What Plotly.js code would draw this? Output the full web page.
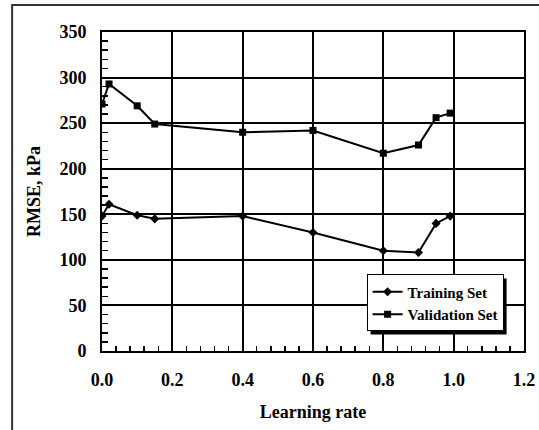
<!DOCTYPE html>
<html><head><meta charset="utf-8">
<script src="https://cdn.plot.ly/plotly-3.0.1.min.js"></script>
<style>html,body{margin:0;padding:0;background:#fff;}#chart{width:539px;height:430px;}</style>
</head><body><div id="chart"></div>
<script>
const learningRateTrain = [0.0, 0.02, 0.1, 0.15, 0.4, 0.6, 0.8, 0.9, 0.95, 0.99];
const trainingRMSE = [148, 161, 149, 145, 148, 130, 110, 108, 140, 148];
const learningRateVal = [0.0, 0.02, 0.1, 0.15, 0.4, 0.6, 0.8, 0.9, 0.95, 0.99];
const validationRMSE = [271, 293, 269, 249, 240, 242, 217, 226, 256, 261];
const xTickVals = [0, 0.2, 0.4, 0.6, 0.8, 1.0, 1.2];
const xTickText = ['0.0', '0.2', '0.4', '0.6', '0.8', '1.0', '1.2'];

const F = 'Liberation Serif, Times New Roman, serif';
const traces = [
  {x: learningRateTrain, y: trainingRMSE, name: 'Training Set', mode: 'lines+markers',
   line: {color: '#000', width: 2}, marker: {symbol: 'diamond', size: 7, color: '#000'}},
  {x: learningRateVal, y: validationRMSE, name: 'Validation Set', mode: 'lines+markers',
   line: {color: '#000', width: 2}, marker: {symbol: 'square', size: 7, color: '#000'}}
];
const frame = {type: 'rect', xref: 'paper', yref: 'paper', x0: -0.213, x1: 1.2, y0: -0.5, y1: 1.0846,
     line: {color: '#333', width: 2}, fillcolor: 'rgba(0,0,0,0)', layer: 'below'};
const layout = {
  width: 539, height: 430,
  margin: {l: 102, r: 15, t: 32, b: 79},
  paper_bgcolor: '#fff', plot_bgcolor: '#fff',
  font: {family: F, color: '#000', size: 18, weight: 700},
  showlegend: true,
  legend: {x: 0.627, y: 0.24, xanchor: 'left', yanchor: 'top', bgcolor: '#fff',
    bordercolor: '#000', borderwidth: 1, font: {family: F, size: 15, weight: 700, color: '#000'},
    tracegroupgap: 0, itemwidth: 30},
  xaxis: {range: [0, 1.2], tickvals: xTickVals, ticktext: xTickText, showgrid: true,
    gridcolor: '#000', gridwidth: 2, zeroline: false, showline: true, linecolor: '#000', linewidth: 2,
    mirror: true, ticks: 'inside', ticklen: 6, tickwidth: 2, tickcolor: '#000', ticklabelstandoff: 11,
    minor: {dtick: 0.04, ticks: 'inside', ticklen: 5, tickwidth: 1.5, tickcolor: '#000', showgrid: false},
    tickfont: {family: F, size: 18, weight: 700}, fixedrange: true,
    title: {text: 'Learning rate', font: {family: F, size: 18, weight: 700}, standoff: 17}},
  yaxis: {range: [0, 350], dtick: 50, showgrid: true,
    gridcolor: '#000', gridwidth: 2, zeroline: false, showline: true, linecolor: '#000', linewidth: 2,
    mirror: true, ticks: 'inside', ticklen: 6, tickwidth: 2, tickcolor: '#000', ticklabelstandoff: 10,
    minor: {dtick: 10, ticks: 'inside', ticklen: 6, tickwidth: 1.5, tickcolor: '#000', showgrid: false},
    tickfont: {family: F, size: 18, weight: 700}, fixedrange: true,
    title: {text: 'RMSE, kPa', font: {family: F, size: 18, weight: 700}, standoff: 14}},
  shapes: [frame]
};
Plotly.newPlot('chart', traces, layout, {staticPlot: true}).then(function (gd) {
  const bg = gd.querySelector('.legend .bg');
  if (!bg) return;
  const r = bg.getBoundingClientRect();
  const c = gd.getBoundingClientRect();
  const pl = 102, pt = 32, pw = 539 - 102 - 15, ph = 430 - 32 - 79;
  const toX = function (px) { return (px - c.left - pl) / pw; };
  const toY = function (py) { return 1 - (py - c.top - pt) / ph; };
  const off = 3.5;
  const shadow = {type: 'rect', xref: 'paper', yref: 'paper',
    x0: toX(r.left + off), x1: toX(r.right + off), y0: toY(r.bottom + off), y1: toY(r.top + off),
    line: {width: 0}, fillcolor: '#000', layer: 'above'};
  return Plotly.relayout(gd, {shapes: [frame, shadow]});
});
</script></body></html>
